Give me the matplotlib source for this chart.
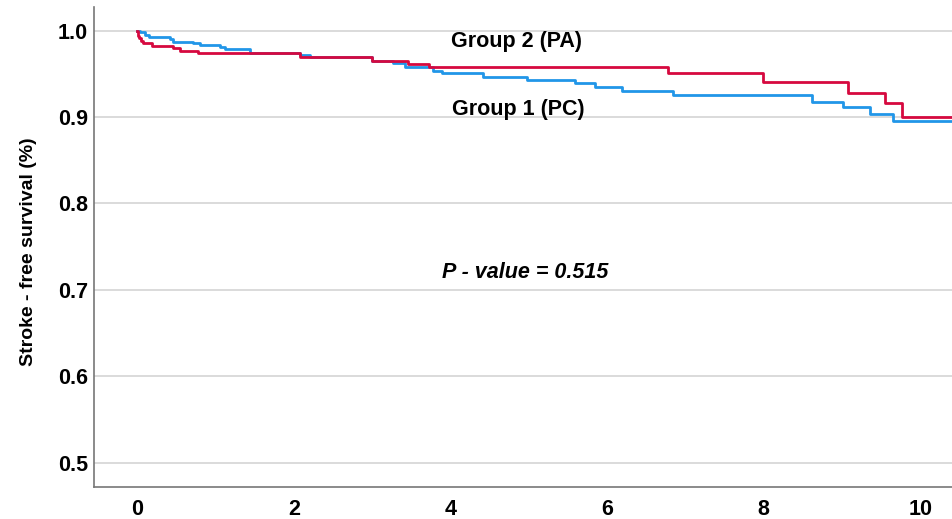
import matplotlib.pyplot as plt

# Kaplan-Meier step data (time in years, survival proportion)
pa_time = [0, 0.005, 0.012, 0.025, 0.045, 0.07, 0.19, 0.46, 0.55, 0.78, 2.08, 3.0, 3.46, 3.72, 6.78, 7.99, 9.08, 9.55, 9.77, 10.5]
pa_surv = [1.0, 0.997, 0.994, 0.991, 0.988, 0.986, 0.9825, 0.980, 0.9768, 0.9743, 0.969, 0.965, 0.961, 0.9574, 0.9505, 0.940, 0.928, 0.9157, 0.900, 0.900]

pc_time = [0, 0.035, 0.10, 0.155, 0.42, 0.45, 0.71, 0.80, 1.06, 1.12, 1.44, 2.08, 2.2, 3.0, 3.26, 3.42, 3.78, 3.89, 4.41, 4.98, 5.59, 5.84, 6.19, 6.84, 8.62, 9.01, 9.36, 9.65, 10.5]
pc_surv = [1.0, 0.998, 0.995, 0.992, 0.990, 0.987, 0.9855, 0.983, 0.981, 0.9786, 0.9745, 0.9716, 0.969, 0.965, 0.9627, 0.958, 0.9535, 0.9505, 0.9465, 0.9427, 0.9388, 0.935, 0.930, 0.9253, 0.9176, 0.9111, 0.9034, 0.8956, 0.8956]

x_ticks = [0, 2, 4, 6, 8, 10]
y_ticks = [0.5, 0.6, 0.7, 0.8, 0.9, 1.0]

plt.rcParams['font.family'] = ['Liberation Sans', 'DejaVu Sans']

fig = plt.figure(figsize=(9.52, 5.19), dpi=100)
ax = fig.add_axes([0.0984, 0.0622, 0.9016, 0.9243])

ax.step(pc_time, pc_surv, where='post', color='#2196E8', lw=2.0, zorder=3)
ax.step(pa_time, pa_surv, where='post', color='#D6093F', lw=2.0, zorder=4)

ax.set_xlim(-0.557, 10.405)
ax.set_ylim(0.472, 1.0272)
ax.set_xticks(x_ticks)
ax.set_yticks(y_ticks)
ax.set_yticklabels([f'{v:.1f}' for v in y_ticks])
ax.tick_params(length=0, labelsize=15.5)
ax.tick_params(axis='x', pad=9)
ax.tick_params(axis='y', pad=4)
for lab in ax.get_xticklabels() + ax.get_yticklabels():
    lab.set_fontweight('bold')

ax.grid(axis='y', color='#D4D4D4', lw=1.2)
ax.set_axisbelow(True)
for s in ['top', 'right']:
    ax.spines[s].set_visible(False)
for s in ['left', 'bottom']:
    ax.spines[s].set_color('#777777')
    ax.spines[s].set_linewidth(1.2)

ax.set_ylabel('Stroke - free survival (%)', fontsize=14, fontweight='bold')
ax.yaxis.set_label_coords(-0.066, 0.49)

ax.text(4.84, 0.987, 'Group 2 (PA)', ha='center', va='center', fontsize=15.5, fontweight='bold')
ax.text(4.87, 0.908, 'Group 1 (PC)', ha='center', va='center', fontsize=15.5, fontweight='bold')
ax.text(4.96, 0.7205, 'P - value = 0.515', ha='center', va='center', fontsize=15.5,
        fontweight='bold', style='italic')

fig.savefig('out.png', dpi=100)
